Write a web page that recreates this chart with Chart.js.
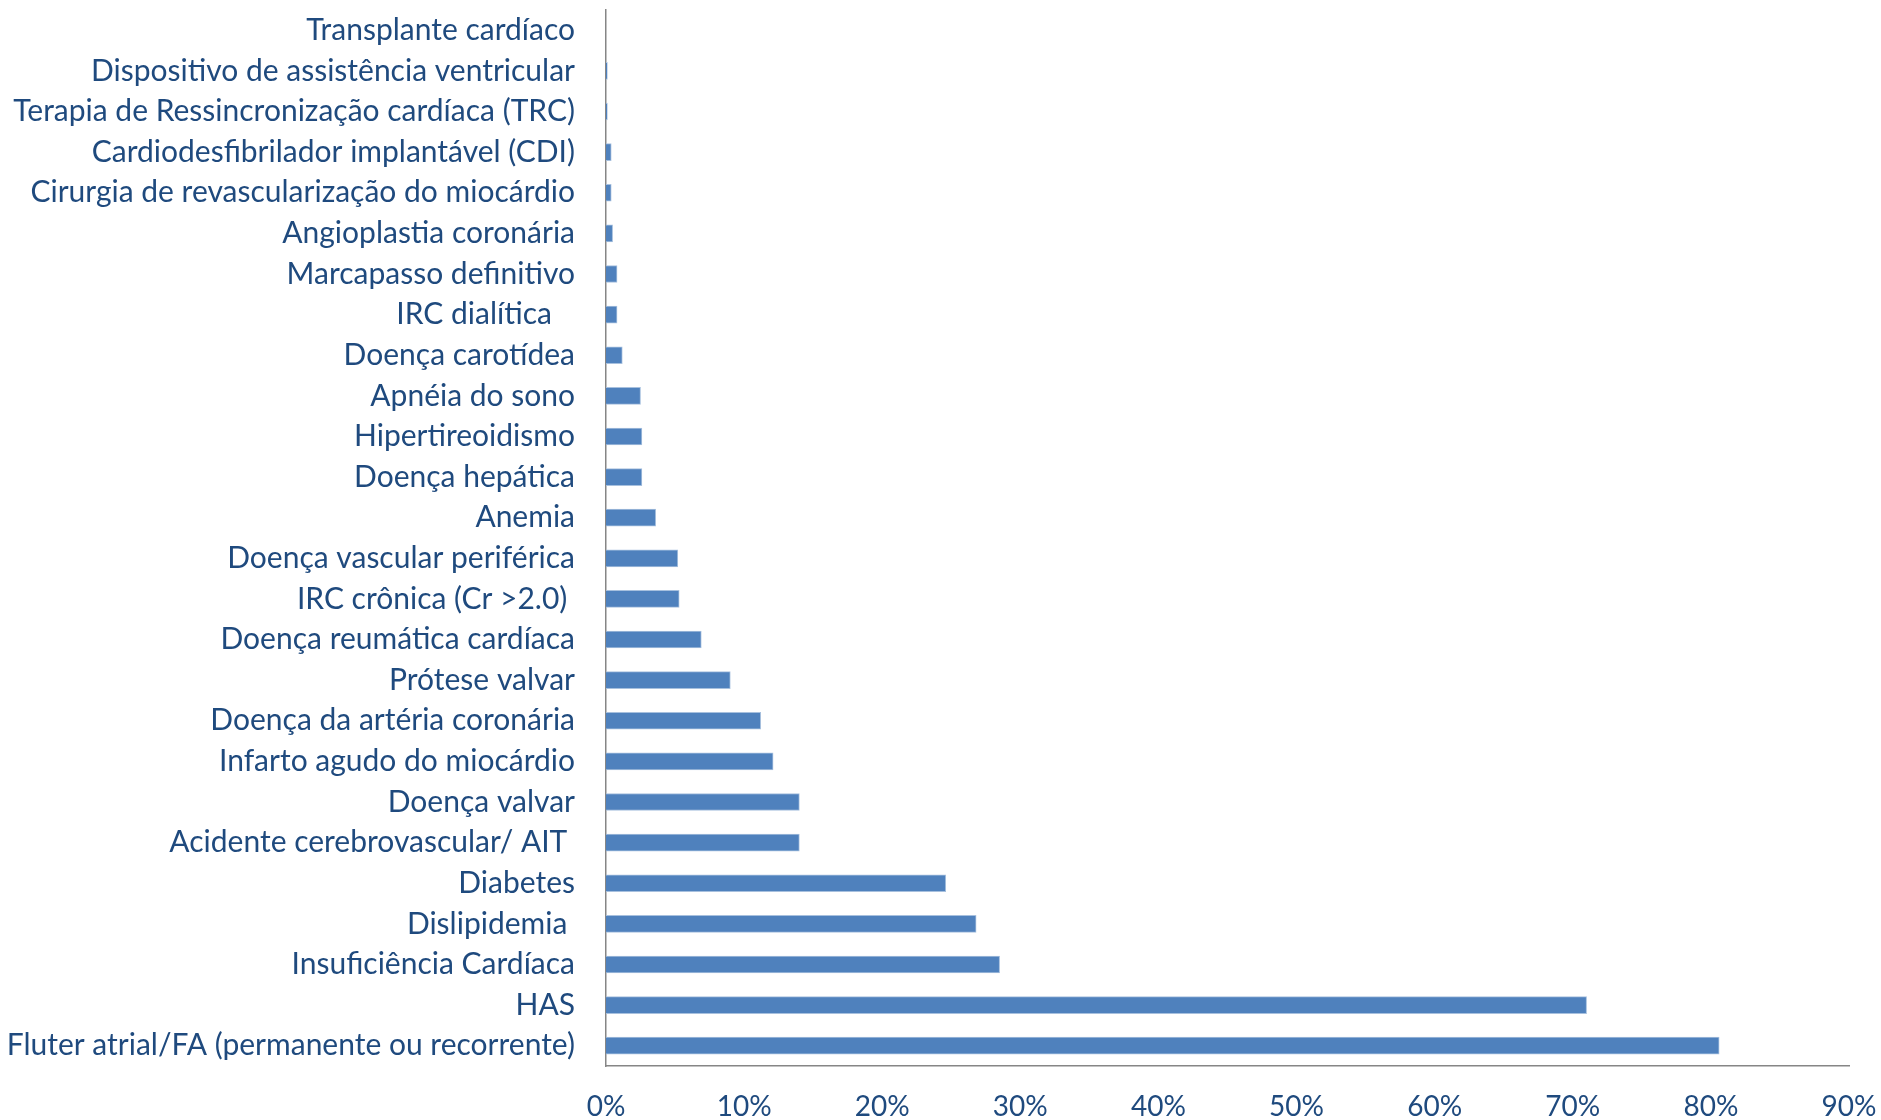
<!DOCTYPE html>
<html>
<head>
<meta charset="utf-8">
<script src="https://cdn.jsdelivr.net/npm/chart.js@4"></script>
<style>
  html, body { margin: 0; padding: 0; background: #fff; }
  #wrap { width: 1881px; height: 1120px; }
</style>
</head>
<body>
<div id="wrap"><canvas id="chart" width="1881" height="1120"></canvas></div>
<script>
const categories = [
  "Transplante cardíaco",
  "Dispositivo de assistência ventricular",
  "Terapia de Ressincronização cardíaca (TRC)",
  "Cardiodesfibrilador implantável (CDI)",
  "Cirurgia de revascularização do miocárdio",
  "Angioplastia coronária",
  "Marcapasso definitivo",
  "IRC dialítica   ",
  "Doença carotídea",
  "Apnéia do sono",
  "Hipertireoidismo",
  "Doença hepática",
  "Anemia",
  "Doença vascular periférica",
  "IRC crônica (Cr >2.0) ",
  "Doença reumática cardíaca",
  "Prótese valvar",
  "Doença da artéria coronária",
  "Infarto agudo do miocárdio",
  "Doença valvar",
  "Acidente cerebrovascular/ AIT ",
  "Diabetes",
  "Dislipidemia ",
  "Insuficiência Cardíaca",
  "HAS",
  "Fluter atrial/FA (permanente ou recorrente)"
];

// percentages
const values = [
  0, 0.1, 0.1, 0.38, 0.38, 0.48, 0.8, 0.8, 1.18, 2.5, 2.6, 2.6, 3.6,
  5.2, 5.3, 6.9, 9.0, 11.2, 12.1, 14.0, 14.0, 24.6, 26.8, 28.5, 71.0, 80.6
];

const xTicks = [0, 10, 20, 30, 40, 50, 60, 70, 80, 90];

const textColor = "#1F4A7E";
const fontFamily = "Lato";

const ctx = document.getElementById("chart").getContext("2d");
new Chart(ctx, {
  type: "bar",
  data: {
    labels: categories,
    datasets: [{
      data: values,
      backgroundColor: "#4F81BD",
      borderColor: "#A7C0DE",
      borderWidth: { top: 1, bottom: 1, left: 0, right: 1 },
      borderSkipped: "left",
      barThickness: 17
    }]
  },
  options: {
    indexAxis: "y",
    responsive: false,
    animation: false,
    layout: {
      padding: { left: 0, right: 32, top: 10, bottom: 0 }
    },
    plugins: {
      legend: { display: false },
      tooltip: { enabled: false }
    },
    scales: {
      x: {
        min: 0,
        max: 90,
        afterBuildTicks: (scale) => {
          scale.ticks = xTicks.map((v) => ({ value: v }));
        },
        afterFit: (scale) => {
          scale.height = 1120 - 10 - 1056;
          scale.paddingLeft = 0;
          scale.paddingRight = 0;
        },
        grid: { display: false, drawTicks: false },
        border: { display: true, color: "#868686", width: 1.5 },
        ticks: {
          color: textColor,
          font: { family: fontFamily, size: 28 },
          padding: 24,
          callback: (v) => v + "%"
        }
      },
      y: {
        afterFit: (scale) => {
          scale.width = 606;
          scale.paddingTop = 0;
          scale.paddingBottom = 0;
        },
        grid: { display: false, drawTicks: false },
        border: { display: true, color: "#868686", width: 1.5 },
        ticks: {
          color: textColor,
          font: { family: fontFamily, size: 30 },
          padding: 31,
          autoSkip: false
        }
      }
    }
  }
});
</script>
</body>
</html>
